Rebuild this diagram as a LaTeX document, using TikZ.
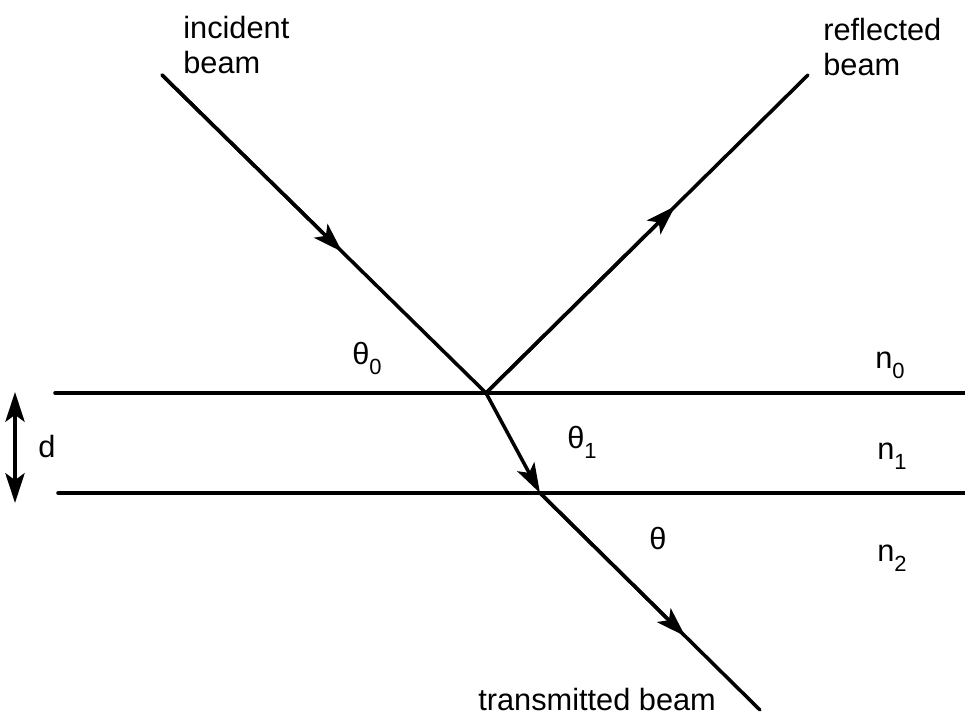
\documentclass[tikz,border=0pt]{standalone}
\usepackage{fontspec}
\setmainfont{Liberation Sans}
\usepackage{tikz}
\usetikzlibrary{arrows.meta, calc, positioning}
\newcommand{\idx}[1]{\raisebox{-0.6ex}{\fontsize{12.5}{12.5}\selectfont #1}}

\begin{document}
\begin{tikzpicture}[x=0.02cm, y=-0.02cm,
    beam/.style={line width=2pt, line cap=round},
    tip/.style={-{Stealth[length=17pt, width=11pt, inset=4pt]}},
    beamarrow/.style={beam, tip},
    lbl/.style={inner sep=0pt, anchor=base west, font=\fontsize{17.5}{20}\selectfont}]
    \useasboundingbox (0,0) rectangle (965,719);

    % Interfaces
    \coordinate (top0) at (55,393);  \coordinate (top1) at (965,393);
    \coordinate (bot0) at (58,493);  \coordinate (bot1) at (965,493);
    \draw[beam] (top0) -- (top1);
    \draw[beam] (bot0) -- (bot1);

    % Beam points
    \coordinate (inc) at (162,75);
    \coordinate (hit) at (486,393);
    \coordinate (exit) at (540,493);
    \coordinate (trans) at (760,710);
    \coordinate (refl) at (808,75);
    \coordinate (incTip) at ($(inc)!0.556!(hit)$);
    \coordinate (reflTip) at ($(hit)!0.587!(refl)$);
    \coordinate (transTip) at ($(exit)!0.66!(trans)$);

    % Beams
    \draw[beam] (inc) -- (hit);
    \draw[beamarrow] (inc) -- (incTip);
    \draw[beam] (hit) -- (refl);
    \draw[beamarrow] (hit) -- (reflTip);
    \draw[beamarrow] (hit) -- (exit);
    \draw[beam] (exit) -- (trans);
    \draw[beamarrow] (exit) -- (transTip);

    % Thickness
    \coordinate (dtop) at (15,392);
    \coordinate (dbot) at (15,503);
    \draw[line width=2pt, {Stealth[length=17pt, width=11pt, inset=4pt]}-{Stealth[length=17pt, width=11pt, inset=4pt]}] (dtop) -- (dbot);
    \node[lbl] (d) at (38,458) {d};

    % Beam labels
    \node[lbl, anchor=north west, align=left] (incLbl) at (183,16) {incident\\beam};
    \node[lbl, anchor=north west, align=left] (reflLbl) at (823,18) {reflected\\beam};
    \node[lbl] (transLbl) at (478,711) {transmitted beam};

    % Angles and indices
    \node[lbl] (th0) at (352,365) {θ\idx{0}};
    \node[lbl] (th1) at (567,449) {θ\idx{1}};
    \node[lbl] (th) at (649,550) {θ};
    \node[lbl] (n0) at (875,369) {n\idx{0}};
    \node[lbl] (n1) at (877,460) {n\idx{1}};
    \node[lbl] (n2) at (877,562) {n\idx{2}};
\end{tikzpicture}
\end{document}
